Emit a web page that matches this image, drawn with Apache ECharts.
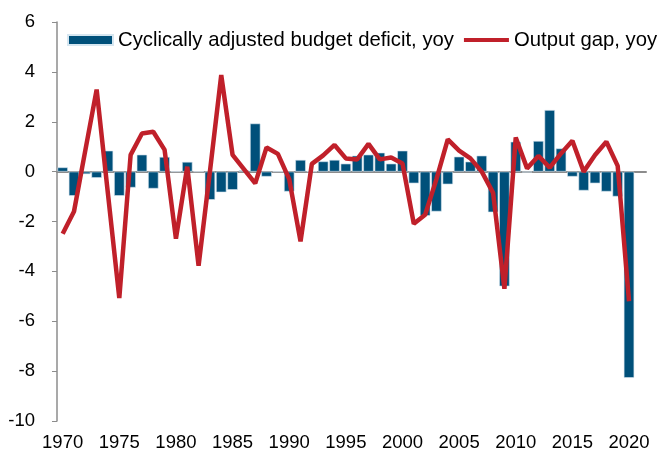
<!DOCTYPE html>
<html>
<head>
<meta charset="utf-8">
<script src="https://cdn.jsdelivr.net/npm/echarts@6/dist/echarts.min.js"></script>
<style>
  html, body { margin: 0; padding: 0; background: #fff; }
  #chart { width: 667px; height: 452px; }
</style>
</head>
<body>
<div id="chart"></div>
<script>
// years 1970-2021 (2021 left empty, as in the source chart)
var years = [];
for (var y = 1970; y <= 2021; y++) years.push(String(y));

var budgetDeficit = [
  0.17, -0.97, -0.1, -0.25, 0.84, -0.97, -0.64, 0.68, -0.68, 0.59,
  0, 0.39, 0, -1.13, -0.83, -0.73, 0.05, 1.93, -0.2, 0,
  -0.8, 0.47, 0, 0.41, 0.47, 0.32, 0.64, 0.68, 0.76, 0.32,
  0.84, -0.47, -1.77, -1.6, -0.51, 0.6, 0.4, 0.64, -1.63, -4.6,
  1.2, -0.03, 1.23, 2.47, 0.93, -0.2, -0.76, -0.47, -0.8, -1.0,
  -8.27, null
];
var outputGap = [
  -2.49, -1.6, 0.85, 3.29, -0.9, -5.07, 0.67, 1.53, 1.6, 0.87,
  -2.69, 0.2, -3.77, 0, 3.87, 0.67, 0.1, -0.47, 0.97, 0.71,
  -0.3, -2.8, 0.31, 0.65, 1.07, 0.53, 0.49, 1.11, 0.49, 0.57,
  0.33, -2.09, -1.73, -0.3, 1.29, 0.84, 0.53, 0, -0.85, -4.7,
  1.37, 0.13, 0.63, 0.16, 0.73, 1.24, 0, 0.67, 1.2, 0.23,
  -5.2, null
];

var font = 'Liberation Sans, Arial, sans-serif';
var axisGrey = '#8c8c8c';
var barBlue = '#00507A';
var lineRed = '#C0202A';

var chart = echarts.init(document.getElementById('chart'));
var option = {
  animation: false,
  textStyle: { fontFamily: font },
  legend: {
    left: 67,
    top: 30,
    width: 640,
    padding: 0,
    itemWidth: 45,
    itemHeight: 10,
    itemGap: 8,
    textStyle: { fontFamily: font, fontSize: 20.3, color: '#000' },
    data: [
      { name: 'Cyclically adjusted budget deficit, yoy', icon: 'rect' },
      { name: 'Output gap, yoy', lineStyle: { width: 4 } }
    ]
  },
  grid: { left: 57, right: 21, top: 22, bottom: 30 },
  xAxis: [
    {
      type: 'category',
      data: years,
      axisLine: { onZero: true, lineStyle: { color: axisGrey, width: 2 } },
      axisTick: { interval: 4, length: 4, lineStyle: { color: axisGrey } },
      axisLabel: { show: false }
    },
    {
      type: 'category',
      data: years,
      position: 'bottom',
      axisLine: { show: false },
      axisTick: { show: false },
      axisLabel: {
        interval: 4,
        margin: 12,
        fontFamily: font,
        fontSize: 18.5,
        color: '#000'
      }
    }
  ],
  yAxis: {
    type: 'value',
    min: -10,
    max: 6,
    interval: 2,
    splitLine: { show: false },
    axisLine: { show: true, lineStyle: { color: axisGrey, width: 1.5 } },
    axisTick: { show: true, length: 5, lineStyle: { color: axisGrey } },
    axisLabel: { margin: 22, fontFamily: font, fontSize: 18.5, color: '#000' }
  },
  series: [
    {
      name: 'Cyclically adjusted budget deficit, yoy',
      type: 'bar',
      xAxisIndex: 0,
      data: budgetDeficit,
      barCategoryGap: '8%',
      itemStyle: { color: barBlue, borderColor: '#d6e6f0', borderWidth: 0.6 }
    },
    {
      name: 'Output gap, yoy',
      type: 'line',
      xAxisIndex: 0,
      data: outputGap,
      symbol: 'line',
      showSymbol: false,
      lineStyle: { color: lineRed, width: 4.5 },
      itemStyle: { color: lineRed }
    }
  ]
};
chart.setOption(option);
</script>
</body>
</html>
